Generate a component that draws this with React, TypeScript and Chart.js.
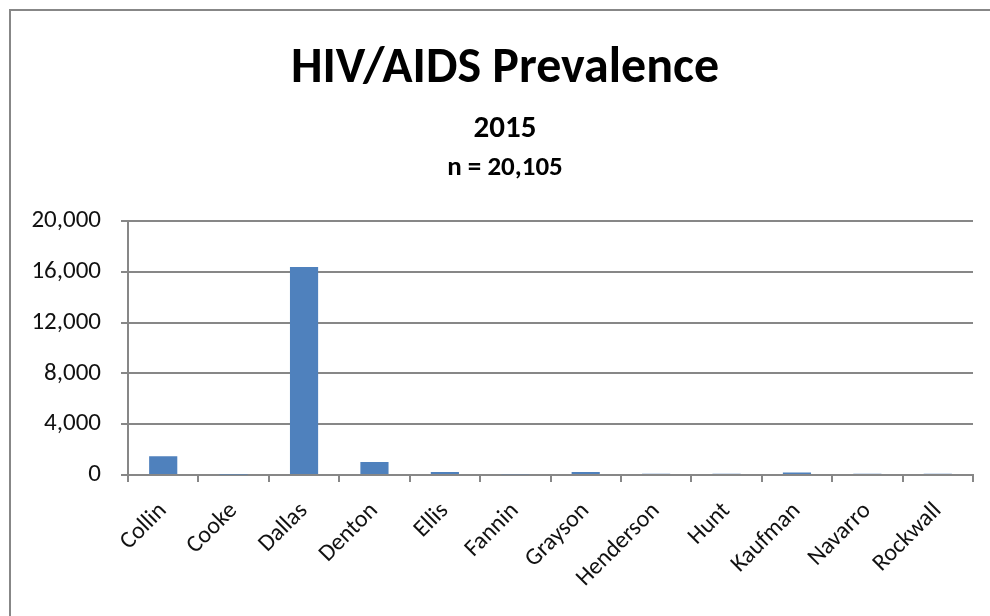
import React, { useEffect, useRef } from "react";
import { Chart, registerables } from "chart.js";

Chart.register(...registerables);

// County counts, 2015
const counties = [
  "Collin", "Cooke", "Dallas", "Denton", "Ellis", "Fannin",
  "Grayson", "Henderson", "Hunt", "Kaufman", "Navarro", "Rockwall",
];
const cases = [1470, 40, 16400, 1030, 230, 60, 230, 90, 90, 200, 100, 90];

const titleText = "HIV/AIDS Prevalence";
const yearText = "2015";
const totalText = "n = 20,105";
const yTickStep = 4000;
const yMax = 20000;

const FONT = "Carlito, Calibri, Lato, 'Open Sans', sans-serif";
const GRID = "#878787";
const BAR = "#4F81BD";

// Draws the "n = ..." line between the subtitle and the plot area
const totalLine = {
  id: "totalLine",
  afterDraw(chart: any) {
    const { ctx, width } = chart;
    ctx.save();
    ctx.font = `bold 27px ${FONT}`;
    ctx.fillStyle = "#000";
    ctx.textAlign = "center";
    ctx.textBaseline = "middle";
    ctx.fillText(totalText, width / 2, 157);
    ctx.restore();
  },
};

export default function App() {
  const ref = useRef<HTMLCanvasElement | null>(null);

  useEffect(() => {
    if (!ref.current) return;
    const chart = new Chart(ref.current, {
      type: "bar",
      data: {
        labels: counties,
        datasets: [
          {
            data: cases,
            backgroundColor: BAR,
            borderWidth: 0,
            barPercentage: 0.4,
            categoryPercentage: 1,
          },
        ],
      },
      plugins: [totalLine],
      options: {
        animation: false,
        responsive: false,
        layout: { padding: 0 },
        plugins: {
          legend: { display: false },
          tooltip: { enabled: false },
          title: {
            display: true,
            text: titleText,
            color: "#000",
            font: { family: FONT, size: 50, weight: "bold" },
            padding: { top: 28, bottom: 12 },
          },
          subtitle: {
            display: true,
            text: yearText,
            color: "#000",
            font: { family: FONT, size: 31, weight: "bold" },
            padding: { top: 0, bottom: 73 },
          },
        },
        scales: {
          x: {
            grid: {
              display: true,
              offset: true,
              drawOnChartArea: false,
              color: GRID,
              lineWidth: 2,
              tickLength: 7,
            },
            border: { display: true, color: GRID, width: 2 },
            ticks: {
              color: "#111",
              font: { family: FONT, size: 24 },
              minRotation: 45,
              maxRotation: 45,
              autoSkip: false,
              padding: 15,
            },
            afterFit: (scale: any) => {
              scale.height = 141;
            },
          },
          y: {
            min: 0,
            max: yMax,
            grid: { color: GRID, lineWidth: 2, tickLength: 7 },
            border: { display: true, color: GRID, width: 2 },
            ticks: {
              stepSize: yTickStep,
              color: "#111",
              font: { family: FONT, size: 25 },
              padding: 20,
              callback: (v: any) => Number(v).toLocaleString("en-US"),
            },
            afterFit: (scale: any) => {
              scale.width = 117;
            },
          },
          // Empty right-hand axis that only reserves a margin beside the plot
          yRight: {
            position: "right",
            grid: { display: false },
            border: { display: false },
            ticks: { display: false },
            afterFit: (scale: any) => {
              scale.width = 26;
            },
          },
        },
      },
    });
    return () => chart.destroy();
  }, []);

  return (
    <div style={{ position: "fixed", inset: 0, overflow: "hidden", background: "#fff" }}>
      <div
        style={{
          position: "absolute",
          left: 9,
          top: 9,
          width: 990,
          height: 607,
          borderLeft: `2px solid ${GRID}`,
          borderTop: `2px solid ${GRID}`,
        }}
      >
        <canvas ref={ref} width={988} height={605} style={{ display: "block" }} />
      </div>
    </div>
  );
}
